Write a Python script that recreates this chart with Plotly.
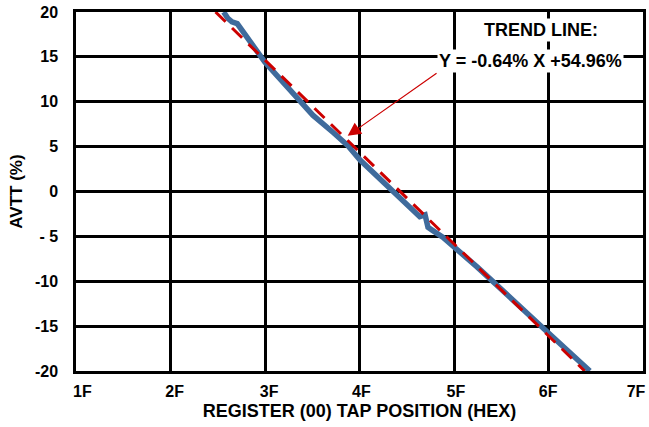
import plotly.graph_objects as go

# Measured AVTT versus register (00) tap position (decimal value of the hex code)
tap_code = [56.0, 56.7, 57.4, 58.3, 63.0, 68.9, 71.1, 74.5, 76.9, 79.1, 84.2,
            88.7, 89.2, 90.1, 90.6, 91.3, 93.1, 98.9, 102.8, 109.6, 110.9, 118.0]
avtt_pct = [20.0, 19.3, 18.9, 18.7, 14.4, 10.2, 8.5, 6.6, 5.2, 3.5, 0.4,
            -2.3, -2.8, -2.6, -4.0, -4.3, -5.1, -8.4, -10.8, -15.1, -15.7, -20.0]

# Linear trend fit: Y = slope * X + intercept
trend_slope = -0.64
trend_intercept = 54.96

# Axis ticks
x_tick_vals = [31, 47, 63, 79, 95, 111, 127]
x_tick_text = ["1F", "2F", "3F", "4F", "5F", "6F", "7F"]
y_tick_vals = [-20, -15, -10, -5, 0, 5, 10, 15, 20]
y_tick_text = ["-20", "-15", "-10", "- 5", "0", "5", "10", "15", "20"]

y_lo, y_hi = -20, 20
trend_x = [(y_hi - trend_intercept) / trend_slope, (y_lo - trend_intercept) / trend_slope]
trend_y = [trend_slope * x + trend_intercept for x in trend_x]

# The hex labels are shifted left as a group so "7F" stays inside the page;
# leading non-breaking spaces nudge the other labels back towards their lines.
NBSP = "\u00a0"
label_pad = [6, 5, 5, 4, 4, 3, 0]
x_tick_labels = [NBSP * n + t for n, t in zip(label_pad, x_tick_text)]

FONT = "Liberation Sans, Arial, sans-serif"


def bold_font(size):
    return dict(family=FONT, size=size, color="black", weight="bold")


fig = go.Figure()
fig.add_trace(go.Scatter(
    x=tap_code, y=avtt_pct, mode="lines",
    line=dict(color="#3F6B9C", width=5.5),
    showlegend=False,
))
fig.add_trace(go.Scatter(
    x=trend_x, y=trend_y, mode="lines",
    line=dict(color="#CC0000", width=3, dash="14px,9px"),
    showlegend=False,
))

# Pointer from the equation label to the trend line
fig.add_annotation(
    x=77.0, y=6.2, xref="x", yref="y",
    ax=92.3, ay=13.3, axref="x", ayref="y",
    text="", showarrow=True,
    arrowhead=2, arrowsize=2.2, arrowwidth=1.2, arrowcolor="#CC0000",
)
fig.add_annotation(
    x=109.7, y=18.0, xref="x", yref="y",
    text="TREND LINE:", showarrow=False,
    font=bold_font(18),
    bgcolor="white",
)
fig.add_annotation(
    x=107.9, y=14.55, xref="x", yref="y",
    text="Y = -0.64% X +54.96%", showarrow=False,
    font=bold_font(18),
    bgcolor="white", borderpad=1,
)

axis_common = dict(
    showgrid=True, gridcolor="black", gridwidth=2.5,
    showline=True, linecolor="black", linewidth=2.5, mirror=True,
    zeroline=False, ticks="", automargin=False,
    tickfont=bold_font(16),
)

fig.update_xaxes(
    range=[31, 127], tickmode="array", tickvals=x_tick_vals, ticktext=x_tick_labels,
    title=dict(text="REGISTER (00) TAP POSITION (HEX)", font=bold_font(18), standoff=6),
    ticklabelstandoff=4, ticklabelshift=-7, ticklabeloverflow="allow",
    **axis_common,
)
fig.update_yaxes(
    range=[y_lo, y_hi], tickmode="array", tickvals=y_tick_vals, ticktext=y_tick_text,
    title=dict(text="AVTT (%)", font=bold_font(17), standoff=8),
    ticklabelstandoff=12,
    **axis_common,
)

fig.update_layout(
    width=649, height=427,
    margin=dict(l=76, r=6, t=12, b=56),
    paper_bgcolor="white", plot_bgcolor="white",
)

fig.write_html("out.html")
